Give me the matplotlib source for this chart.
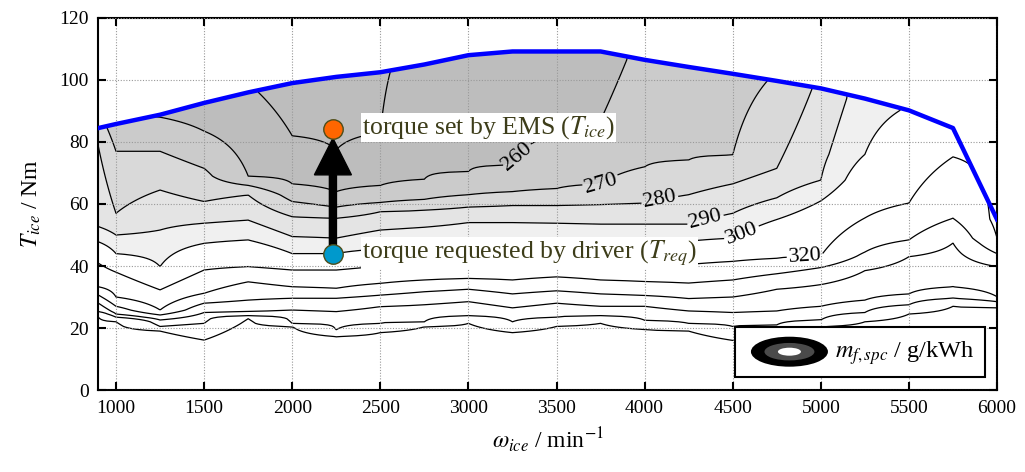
import numpy as np
import matplotlib
matplotlib.use("Agg")
import matplotlib.pyplot as plt
from matplotlib.patches import Polygon, Ellipse, Rectangle

plt.rcParams["font.family"] = ["Liberation Serif", "DejaVu Serif"]
plt.rcParams["mathtext.fontset"] = "stix"

nan = np.nan

# Motordrehzahl-Stützstellen und Volllastkennlinie
speeds = [900, 1000, 1250, 1500, 1750, 2000, 2250, 2500, 2750, 3000, 3250,
          3500, 3750, 4000, 4250, 4500, 4750, 5000, 5250, 5500, 5750, 6000]
t_max = [84.5, 85.8, 88.8, 92.6, 96.0, 99.0, 101.0, 102.5, 105.0, 108.0, 109.2,
         109.2, 109.2, 106.5, 104.2, 102.0, 99.7, 97.3, 94.0, 90.2, 84.5, 55.0]
# spez. Verbrauch direkt an der Volllast
be_top = [275, 264, 257, 255, 251, 246, 245, 249, 253, 254, 254,
          255, 255, 263, 264, 266, 271, 282, 295, 301, 312, 316]

# Drehmoment, bei dem die Isolinie je Drehzahl geschnitten wird (unterer Ast)
t_250 = [nan, nan, nan, nan, nan, 82.0, 77.5, 83.0, nan, nan, nan,
         nan, nan, nan, nan, nan, nan, nan, nan, nan, nan, nan]
t_260 = [nan, nan, 88.0, 83.5, 69.0, 66.5, 64.0, 66.0, 68.0, 70.5, 72.6,
         82.0, 87.0, nan, nan, nan, nan, nan, nan, nan, nan, nan]
t_270 = [nan, 77.0, 77.0, 71.5, 66.0, 60.8, 59.0, 60.5, 61.5, 63.0, 64.0,
         65.0, 66.5, 72.0, 74.2, 75.8, nan, nan, nan, nan, nan, nan]
t_280 = [78.5, 57.0, 64.5, 60.8, 62.9, 55.9, 55.4, 57.5, 58.0, 59.0, 59.5,
         59.5, 59.8, 60.3, 63.0, 66.5, 71.5, nan, nan, nan, nan, nan]
t_290 = [52.7, 50.0, 51.6, 53.8, 54.8, 49.5, 49.0, 51.6, 52.5, 54.0, 54.0,
         53.8, 53.5, 53.5, 53.5, 57.0, 62.0, 67.7, nan, nan, nan, nan]
t_300 = [47.8, 44.0, 39.8, 47.3, 48.4, 44.0, 44.0, 45.5, 46.5, 47.0, 47.0,
         47.5, 48.0, 48.0, 48.0, 49.0, 55.0, 61.0, 76.0, nan, nan, nan]
t_320 = [40.9, 38.0, 32.3, 38.7, 39.8, 38.7, 38.7, 40.0, 41.0, 41.5, 41.5,
         42.0, 41.5, 41.0, 40.5, 41.5, 42.5, 43.2, 55.5, 60.3, 75.2, 49.0]
t_340 = [33.3, 30.0, 25.8, 31.2, 34.9, 33.3, 32.8, 34.4, 35.5, 36.0, 35.5,
         36.5, 35.5, 35.0, 34.5, 35.5, 37.5, 39.5, 44.5, 48.4, 55.4, 44.0]
t_360 = [30.6, 27.0, 24.2, 28.0, 29.0, 29.6, 29.6, 30.6, 31.7, 32.5, 31.0,
         32.0, 31.0, 30.5, 29.5, 30.0, 32.5, 34.0, 38.5, 43.0, 47.4, 39.8]
t_380 = [28.0, 24.5, 22.6, 25.0, 25.3, 25.8, 25.3, 26.9, 27.5, 28.5, 26.5,
         28.0, 27.0, 27.0, 25.5, 25.0, 25.5, 27.0, 29.0, 31.0, 33.3, 30.1]
t_400 = [25.3, 23.5, 20.5, 21.5, 24.0, 21.5, 19.4, 21.5, 22.0, 24.0, 22.0,
         23.5, 24.0, 22.5, 21.5, 20.5, 21.0, 22.6, 25.0, 27.5, 29.6, 28.5]
t_450 = [23.5, 22.0, 19.0, 16.1, 23.0, 20.4, 17.2, 18.5, 20.4, 21.5, 18.5,
         20.5, 21.5, 19.5, 19.0, 16.0, 19.0, 20.4, 22.0, 24.5, 27.0, 26.5]

line_levels = [250, 260, 270, 280, 290, 300, 320, 340, 360, 380, 400, 450]
crossings = [t_250, t_260, t_270, t_280, t_290, t_300,
             t_320, t_340, t_360, t_380, t_400, t_450]
label_levels = [260, 270, 280, 290, 300, 320]
label_pos = [(3310, 74.0), (3753, 66.5), (4090, 60.3),
             (4350, 53.9), (4560, 49.4), (4912, 43.5)]

# Betriebspunkt: Fahrerwunsch und EMS-Vorgabe
op_speed = 2231
t_req = 43.9
t_ice = 84.3

# Kennfeld spaltenweise aus den Isolinien aufbauen
T = np.linspace(0, 120, 481)
be = np.empty((len(T), len(speeds)))
for j in range(len(speeds)):
    pts = [(0.0, 600.0)]
    for lvl, ts in zip(line_levels, crossings):
        if not np.isnan(ts[j]):
            pts.append((ts[j], lvl))
    pts.append((t_max[j], be_top[j]))
    pts.sort()
    tt, bb = zip(*pts)
    be[:, j] = np.interp(T, tt, bb)

fig, ax = plt.subplots(figsize=(10.25, 4.72), dpi=100)
fig.subplots_adjust(left=0.096, right=0.9727, bottom=0.1737, top=0.9619)
ax.set_xlim(900, 6000)
ax.set_ylim(0, 120)

fill_levels = [0, 260, 270, 280, 290, 300, 1000]
fill_colors = ["#bdbdbd", "#cbcbcb", "#d9d9d9", "#e4e4e4", "#f0f0f0", "white"]
cf = ax.contourf(speeds, T, be, levels=fill_levels, colors=fill_colors, zorder=1)

plain_levels = [l for l in line_levels if l not in label_levels]
cs_plain = ax.contour(speeds, T, be, levels=plain_levels, colors="black",
                      linewidths=0.9, zorder=2)
cs_lab = ax.contour(speeds, T, be, levels=label_levels, colors="black",
                    linewidths=0.9, zorder=2)

# alles oberhalb der Volllast abschneiden
clip = Polygon(np.column_stack([[speeds[0]] + speeds + [speeds[-1]],
                                [0] + t_max + [0]]),
               closed=True, transform=ax.transData, fc="none", ec="none")
for c in (cf, cs_plain, cs_lab):
    c.set_clip_path(clip)

ax.clabel(cs_lab, manual=label_pos, fmt="%d", fontsize=16,
          inline=True, inline_spacing=2)

# Volllastkennlinie
ax.plot(speeds, t_max, color="blue", lw=3.2, zorder=4)

# Lastpunktanhebung
ax.arrow(op_speed, t_req, 0, t_ice - 3.1 - t_req, width=40, head_width=210,
         head_length=11.8, length_includes_head=True, color="black", zorder=5)
ax.plot(op_speed, t_ice, "o", ms=14, mfc="#ff6600", mec="#4d4d1a", mew=1, zorder=6)
ax.plot(op_speed, t_req, "o", ms=14, mfc="#0099cc", mec="#4d4d1a", mew=1, zorder=6)

ax.text(2395, t_ice + 0.3, r"torque set by EMS ($T_{ice}$)", fontsize=18.5,
        color="#3d3d1a", va="center", ha="left", zorder=6,
        bbox=dict(fc="white", ec="none", pad=1.0))
ax.text(2395, t_req + 0.3, r"torque requested by driver ($T_{req}$)", fontsize=18.5,
        color="#3d3d1a", va="center", ha="left", zorder=6,
        bbox=dict(fc="white", ec="none", pad=1.0))

# Legendenkasten mit Symbol
ax.add_patch(Rectangle((0.708, 0.035), 0.279, 0.134, transform=ax.transAxes,
                       fc="white", ec="black", lw=1.5, zorder=7))
ax.add_patch(Ellipse((0.769, 0.103), 0.0857, 0.0806, transform=ax.transAxes,
                     fc="black", ec="none", zorder=8))
ax.add_patch(Ellipse((0.769, 0.103), 0.0556, 0.047, transform=ax.transAxes,
                     fc="#4a4a4a", ec="none", zorder=8))
ax.add_patch(Ellipse((0.769, 0.103), 0.0256, 0.0215, transform=ax.transAxes,
                     fc="white", ec="none", zorder=8))
ax.text(0.82, 0.098, r"$m_{f,spc}$ / g/kWh", transform=ax.transAxes,
        fontsize=17.5, va="center", ha="left", zorder=8)

ax.set_xticks(range(1000, 6001, 500))
ax.set_yticks(range(0, 121, 20))
ax.tick_params(direction="in", top=True, right=True, length=6, width=1.5,
               labelsize=14, pad=7)
ax.grid(True, linestyle=(0, (1, 1.5)), color="#999999", lw=0.8)
ax.set_axisbelow(False)
for s in ax.spines.values():
    s.set_linewidth(1.5)

ax.set_xlabel(r"$\omega_{ice}$ / min$^{-1}$", fontsize=17, labelpad=6)
ax.set_ylabel(r"$T_{ice}$ / Nm", fontsize=17, labelpad=12)

fig.savefig("out.png", dpi=100)
